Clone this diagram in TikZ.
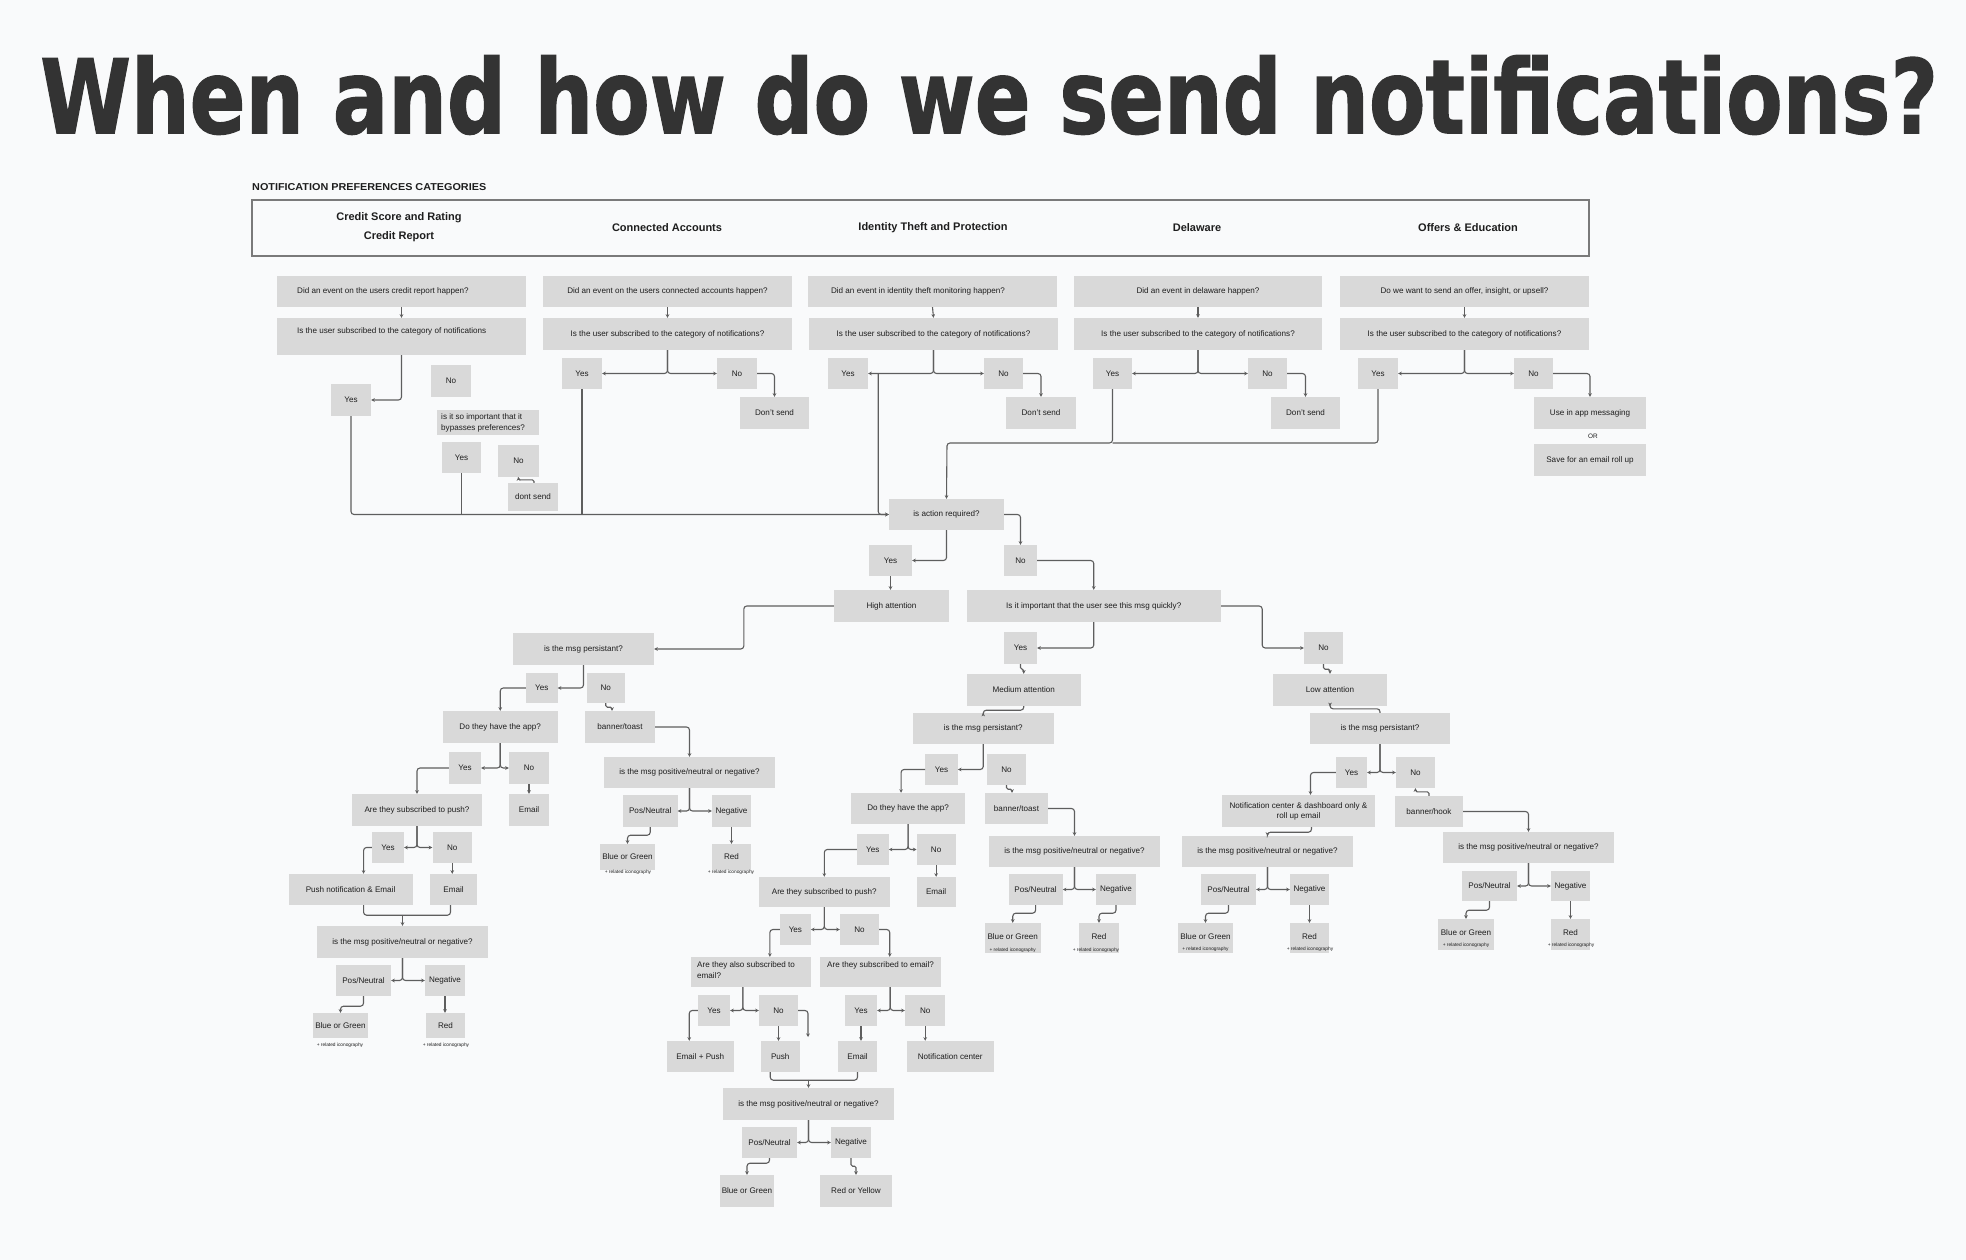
\documentclass[tikz,border=0pt]{standalone}
\usepackage{fontspec}
\usepackage{graphicx}
\setmainfont{Liberation Sans}
\newfontfamily\titlefont[BoldFeatures={FakeBold=1.3}]{DejaVu Sans}
\usetikzlibrary{arrows.meta}
\definecolor{bgc}{HTML}{F9FAFB}
\definecolor{boxc}{HTML}{D9D9D9}
\definecolor{linec}{HTML}{5E5E5E}
\definecolor{hdrc}{HTML}{7A7A7A}
\definecolor{txtc}{HTML}{1E1E1E}
\definecolor{titlec}{HTML}{333333}
\tikzset{
 box/.style={fill=boxc, inner sep=0pt, text=txtc, font=\fontsize{8.1}{10}\selectfont, align=center},
 txt/.style={inner sep=0pt, text=txtc, font=\fontsize{8.1}{11}\selectfont, align=left},
 icon/.style={inner sep=0pt, text=txtc, font=\fontsize{4.8}{5}\selectfont},
 hd/.style={inner sep=0pt, text=txtc, font=\fontsize{11}{19}\selectfont\bfseries, align=center},
 wire/.style={draw=linec, line width=1.1pt, rounded corners=3pt},
 conn/.style={wire, -{Stealth[length=3.6pt,width=3.6pt]}},
}
\newcommand\mybox[7][]{\node[box,minimum width={(#5-#3)*1pt},minimum height={(#6-#4)*1pt},#1] (#2) at ({(#3+#5)/2},{(#4+#6)/2}) {#7};}
\begin{document}
\begin{tikzpicture}[x=1pt,y=-1pt]
\fill[bgc] (0,0) rectangle (1966,1260);
\useasboundingbox (0,0) rectangle (1966,1260);

% title
\node[anchor=north west,inner sep=0,text=titlec] (title) at (40,55) {\resizebox{1897pt}{78pt}{\titlefont\bfseries When and how do we send notifications?}};
\node[anchor=west,inner sep=0,text=txtc] (nlabel) at (252,187) {\resizebox{234pt}{7pt}{\bfseries NOTIFICATION PREFERENCES CATEGORIES}};

% header
\mybox[fill=none,draw=hdrc,line width=1.4pt]{hdr}{252}{200}{1589}{256}{}
\node[hd] (h1) at (399,227.5) {Credit Score and Rating\\Credit Report};
\node[hd] (h2) at (667,228) {Connected Accounts};
\node[hd] (h3) at (933,228) {Identity Theft and Protection};
\node[hd] (h4) at (1197,228) {Delaware};
\node[hd] (h5) at (1468,228) {Offers \& Education};

% column 1
\mybox{c1ev}{277}{276}{526}{307}{}
\node[txt,anchor=west] (c1evt) at (297,291.5) {Did an event on the users credit report happen?};
\mybox{c1sub}{277}{318}{526}{355}{}
\node[txt,anchor=west] (c1subt) at (297,331) {Is the user subscribed to the category of notifications};
\mybox{c1yes}{331}{384}{371}{416}{Yes}
\mybox{c1no}{431}{365}{471}{397}{No}
\mybox{c1imp}{437}{410}{539}{435}{}
\node[txt,anchor=west] (c1impt) at (441,422.5) {is it so important that it\\bypasses preferences?};
\mybox{c1yes2}{442}{442}{481}{473}{Yes}
\mybox{c1no2}{498}{445}{539}{477}{No}
\mybox{c1ds}{508}{483}{558}{511}{dont send}

% column 2
\mybox{c2ev}{543}{276}{792}{307}{Did an event on the users connected accounts happen?}
\mybox{c2sub}{543}{318}{792}{350}{Is the user subscribed to the category of notifications?}
\mybox{c2yes}{562}{358}{602}{389}{Yes}
\mybox{c2no}{717}{358}{757}{389}{No}
\mybox{c2ds}{740}{397}{809}{429}{Don't send}

% column 3
\mybox{c3ev}{808}{276}{1057}{307}{}
\node[txt] (c3evt) at (918,291.5) {Did an event in identity theft monitoring happen?};
\mybox{c3sub}{809}{318}{1058}{350}{Is the user subscribed to the category of notifications?}
\mybox{c3yes}{828}{358}{868}{389}{Yes}
\mybox{c3no}{984}{358}{1023}{389}{No}
\mybox{c3ds}{1006}{397}{1076}{429}{Don't send}

% column 4
\mybox{c4ev}{1074}{276}{1322}{307}{Did an event in delaware happen?}
\mybox{c4sub}{1074}{318}{1322}{350}{Is the user subscribed to the category of notifications?}
\mybox{c4yes}{1093}{358}{1132}{389}{Yes}
\mybox{c4no}{1248}{358}{1287}{389}{No}
\mybox{c4ds}{1271}{397}{1340}{429}{Don't send}

% column 5
\mybox{c5ev}{1340}{276}{1589}{307}{Do we want to send an offer, insight, or upsell?}
\mybox{c5sub}{1340}{318}{1589}{350}{Is the user subscribed to the category of notifications?}
\mybox{c5yes}{1358}{358}{1398}{389}{Yes}
\mybox{c5no}{1514}{358}{1553}{389}{No}
\mybox{c5app}{1534}{397}{1646}{429}{Use in app messaging}
\node[txt,font=\fontsize{6.4}{7}\selectfont] (c5or) at (1593,436.5) {OR};
\mybox{c5save}{1534}{444}{1646}{476}{Save for an email roll up}

% action
\mybox{act}{889}{499}{1004}{530}{is action required?}
\mybox{ayes}{869}{545}{912}{576}{Yes}
\mybox{ano}{1004}{545}{1037}{576}{No}
\mybox{ha}{834}{590}{949}{622}{High attention}
\mybox{imp}{966.5}{590}{1221}{622}{Is it important that the user see this msg quickly?}
\mybox{myes}{1004}{632}{1037}{664}{Yes}
\mybox{lno}{1304}{632}{1343}{664}{No}
\mybox{med}{966.5}{674}{1081}{706}{Medium attention}
\mybox{low}{1273}{674}{1387}{706}{Low attention}

% high attention branch
\mybox{p1}{513}{633}{654}{665}{is the msg persistant?}
\mybox{p1y}{526}{673}{557.5}{703}{Yes}
\mybox{p1n}{586.5}{673}{625}{703}{No}
\mybox{app1}{443}{711}{557.5}{743}{Do they have the app?}
\mybox{bt1}{585}{711}{655}{743}{banner/toast}
\mybox{a1y}{449}{752}{481}{784}{Yes}
\mybox{a1n}{509}{752}{549}{784}{No}
\mybox{em1}{509}{794}{549}{826}{Email}
\mybox{push1}{352}{794}{482}{826}{Are they subscribed to push?}
\mybox{p1yy}{372}{832}{404}{863}{Yes}
\mybox{p1nn}{432.5}{832}{472}{863}{No}
\mybox{pne}{288.6}{874}{412.5}{905}{Push notification \& Email}
\mybox{em2}{430}{874}{477}{905}{Email}
\mybox{pn2}{317}{926}{488}{958}{is the msg positive/neutral or negative?}
\mybox{pos2}{336}{965}{391}{996}{Pos/Neutral}
\mybox{neg2}{425}{965}{465}{996}{Negative}
\mybox{bg2}{313}{1013}{368}{1038}{Blue or Green}
\node[icon] (bg2i) at (340,1045) {+ related iconography};
\mybox{red2}{426}{1013}{465}{1038}{Red}
\node[icon] (red2i) at (446,1045) {+ related iconography};
\mybox{pn1}{604}{757}{775}{788}{is the msg positive/neutral or negative?}
\mybox{pos1}{623}{795}{677.5}{827}{Pos/Neutral}
\mybox{neg1}{712}{795}{751}{827}{Negative}
\mybox{bg1}{600}{844}{655}{870}{Blue or Green}
\node[icon] (bg1i) at (628,872.5) {+ related iconography};
\mybox{red1}{712}{844}{751}{870}{Red}
\node[icon] (red1i) at (731,872.5) {+ related iconography};

% medium attention branch
\mybox{p2}{913}{713}{1053.5}{744}{is the msg persistant?}
\mybox{p2y}{925.4}{754}{957.7}{785}{Yes}
\mybox{p2n}{987}{754}{1026}{785}{No}
\mybox{app2}{850.7}{793}{965.4}{824}{Do they have the app?}
\mybox{bt2}{985}{793}{1048}{824}{banner/toast}
\mybox{pn3}{989}{836}{1160}{867}{is the msg positive/neutral or negative?}
\mybox{pos3}{1008.6}{874}{1062.6}{905}{Pos/Neutral}
\mybox{neg3}{1096}{874}{1136}{905}{Negative}
\mybox{bg3}{985}{923}{1040.5}{953}{}
\node[txt] (bg3t) at (1012.75,937) {Blue or Green};
\node[icon] (bg3i) at (1012.75,950) {+ related iconography};
\mybox{red3}{1079}{923}{1119}{953}{}
\node[txt] (red3t) at (1099,937) {Red};
\node[icon] (red3i) at (1096,950) {+ related iconography};
\mybox{a2y}{857}{834}{888.6}{865}{Yes}
\mybox{a2n}{916.7}{834}{955.6}{865}{No}
\mybox{em3}{916.7}{877}{955.6}{907}{Email}
\mybox{push2}{759}{877}{889.6}{907}{Are they subscribed to push?}
\mybox{p2yy}{780}{914}{810.7}{945}{Yes}
\mybox{p2nn}{840}{914}{879}{945}{No}
\mybox{also}{690.7}{957}{811}{987}{}
\node[txt,anchor=north west] (alsot) at (697,961) {Are they also subscribed to\\email?};
\mybox{sube}{820}{957}{940.5}{987}{}
\node[txt,anchor=west] (subet) at (827,965) {Are they subscribed to email?};
\mybox{yes4}{698}{995}{730}{1026}{Yes}
\mybox{no4}{759}{995}{798}{1026}{No}
\mybox{yes5}{845}{995}{877}{1026}{Yes}
\mybox{no5}{905}{995}{945.4}{1026}{No}
\mybox{ep}{667}{1041}{733.5}{1072}{Email + Push}
\mybox{push3}{760.5}{1041}{800}{1072}{Push}
\mybox{em4}{838}{1041}{877}{1072}{Email}
\mybox{nc2}{906.5}{1041}{994}{1072}{Notification center}
\mybox{pn6}{723}{1088}{894}{1120}{is the msg positive/neutral or negative?}
\mybox{pos6}{742}{1127}{797}{1158}{Pos/Neutral}
\mybox{neg6}{831}{1127}{871}{1158}{Negative}
\mybox{bg6}{720}{1175}{774}{1207}{Blue or Green}
\mybox{ry}{820}{1175}{892}{1207}{Red or Yellow}
\coordinate (no4end) at (808,1037);

% low attention branch
\mybox{p3}{1310}{713}{1450}{744}{is the msg persistant?}
\mybox{p3y}{1336}{757}{1367}{788}{Yes}
\mybox{p3n}{1396}{757}{1435}{788}{No}
\mybox{nc}{1222}{795}{1375}{827}{Notification center \& dashboard only \&\\roll up email}
\mybox{bh}{1395}{796}{1463}{827}{banner/hook}
\mybox{pn4}{1182}{836}{1353}{867}{is the msg positive/neutral or negative?}
\mybox{pos4}{1201}{874}{1256}{905}{Pos/Neutral}
\mybox{neg4}{1290}{874}{1329}{905}{Negative}
\mybox{bg4}{1178}{923}{1233}{953}{}
\node[txt] (bg4t) at (1205.5,937) {Blue or Green};
\node[icon] (bg4i) at (1205.5,949) {+ related iconography};
\mybox{red4}{1290}{923}{1329}{953}{}
\node[txt] (red4t) at (1309.5,937) {Red};
\node[icon] (red4i) at (1310,949) {+ related iconography};
\mybox{pn5}{1443}{832}{1614}{863}{is the msg positive/neutral or negative?}
\mybox{pos5}{1462}{871}{1517}{901}{Pos/Neutral}
\mybox{neg5}{1551}{871}{1590}{901}{Negative}
\mybox{bg5}{1438}{919}{1494}{950}{}
\node[txt] (bg5t) at (1466,933) {Blue or Green};
\node[icon] (bg5i) at (1466,945) {+ related iconography};
\mybox{red5}{1551}{919}{1590}{950}{}
\node[txt] (red5t) at (1570.5,933) {Red};
\node[icon] (red5i) at (1571,945) {+ related iconography};

\coordinate (lvl) at (947,443);

% ---------- connectors: top ----------
\draw[conn] (c1ev.south) -- (c1sub.north);
\draw[conn] (c1sub.south) |- (c1yes.east);
\draw[conn,rounded corners=1.5pt] ([xshift=1pt]c1ds.north) -- ++(0,-3) -| (c1no2.south);
\draw[conn] (c1yes.south) |- (act.west);
\draw[wire] (c1yes2.south) -- (c1yes2.south |- act.west);
\draw[wire] (c2yes.south) -- (c2yes.south |- act.west);
\draw[conn] ([xshift=10pt]c3yes.east) |- (act.west);

\draw[conn] (c2ev.south) -- (c2sub.north);
\draw[conn] (c2sub.south) |- (c2yes.east);
\draw[conn] (c2sub.south) |- (c2no.west);
\draw[conn] (c2no.east) -| (c2ds.north);

\draw[conn] (c3ev.south) -- (c3sub.north);
\draw[conn] (c3sub.south) |- (c3yes.east);
\draw[conn] (c3sub.south) |- (c3no.west);
\draw[conn] (c3no.east) -| (c3ds.north);

\draw[conn] (c4ev.south) -- (c4sub.north);
\draw[conn] (c4sub.south) |- (c4yes.east);
\draw[conn] (c4sub.south) |- (c4no.west);
\draw[conn] (c4no.east) -| (c4ds.north);

\draw[conn] (c5ev.south) -- (c5sub.north);
\draw[conn] (c5sub.south) |- (c5yes.east);
\draw[conn] (c5sub.south) |- (c5no.west);
\draw[conn] (c5no.east) -| (c5app.north);

\draw[conn] (c4yes.south) |- (lvl) -- (act.north);
\draw[wire] (c5yes.south) |- (c4yes.south |- lvl);

% ---------- action ----------
\draw[conn] (act.south) |- (ayes.east);
\draw[conn] (act.east) -| (ano.north);
\draw[conn] (ayes.south) -- (ayes.south |- ha.north);
\draw[conn] (ano.east) -| (imp.north);
\draw[conn] (imp.south) |- (myes.east);
\draw[conn] (imp.east) -- ++(41,0) |- (lno.west);
\draw[conn,rounded corners=1.5pt] (myes.south) -- ++(0,5) -| (med.north);
\draw[conn,rounded corners=1.5pt] (lno.south) -- ++(0,5) -| (low.north);

% ---------- high ----------
\draw[conn] (ha.west) -- ++(-90,0) |- (p1.east);
\draw[conn] (p1.south) |- (p1y.east);
\draw[conn,rounded corners=1.5pt] (p1n.south) -- ++(0,4) -| ([xshift=-8pt]bt1.north);
\draw[conn] (p1y.west) -| (app1.north);
\draw[conn] (bt1.east) -| (pn1.north);
\draw[conn] (app1.south) |- (a1y.east);
\draw[conn] (app1.south) |- (a1n.west);
\draw[conn] (a1n.south) -- (em1.north);
\draw[conn] (a1y.west) -| (push1.north);
\draw[conn] (push1.south) |- (p1yy.east);
\draw[conn] (push1.south) |- (p1nn.west);
\draw[conn] (p1yy.west) -| ([xshift=13pt]pne.north);
\draw[conn] (p1nn.south) -- (p1nn.south |- em2.north);
\draw[wire] ([xshift=13pt]pne.south) -- ++(0,10) -| ([xshift=-3pt]em2.south);
\draw[conn] ([yshift=11pt]pn2.north) -- (pn2.north);
\draw[conn] (pn2.south) |- (pos2.east);
\draw[conn] (pn2.south) |- (neg2.west);
\draw[conn] (pos2.south) -- ++(0,10) -| (bg2.north);
\draw[conn] (neg2.south) -- (neg2.south |- red2.north);
\draw[conn] (pn1.south) |- (pos1.east);
\draw[conn] (pn1.south) |- (neg1.west);
\draw[conn] (pos1.south) -- ++(0,8) -| (bg1.north);
\draw[conn] (neg1.south) -- (neg1.south |- red1.north);

% ---------- medium ----------
\draw[conn] (med.south) -- ++(0,4) -| (p2.north);
\draw[conn] (p2.south) |- (p2y.east);
\draw[conn,rounded corners=1.5pt] (p2n.south) -- ++(0,4) -| ([xshift=-4.5pt]bt2.north);
\draw[conn] (p2y.west) -| ([xshift=-7pt]app2.north);
\draw[conn] (bt2.east) -| (pn3.north);
\draw[conn] (pn3.south) |- (pos3.east);
\draw[conn] (pn3.south) |- (neg3.west);
\draw[conn] (pos3.south) -- ++(0,8) -| (bg3.north);
\draw[conn] (neg3.south) -- ++(0,8) -| (red3.north);
\draw[conn] (app2.south) |- (a2y.east);
\draw[conn] (app2.south) |- (a2n.west);
\draw[conn] (a2n.south) -- (a2n.south |- em3.north);
\draw[conn] (a2y.west) -| (push2.north);
\draw[conn] (push2.south) |- (p2yy.east);
\draw[conn] (push2.south) |- (p2nn.west);
\draw[conn] (p2yy.west) -| ([xshift=19pt]also.north);
\draw[conn] (p2nn.east) -| ([xshift=9.5pt]sube.north);
\draw[conn] ([xshift=-8pt]also.south) |- (yes4.east);
\draw[conn] ([xshift=-8pt]also.south) |- (no4.west);
\draw[conn] (yes4.west) -| ([xshift=-11pt]ep.north);
\draw[conn] (no4.south) -- (no4.south |- push3.north);
\draw[conn] (no4.east) -| (no4end);
\draw[conn] ([xshift=10pt]sube.south) |- (yes5.east);
\draw[conn] ([xshift=10pt]sube.south) |- (no5.west);
\draw[conn] (yes5.south) -- (yes5.south |- em4.north);
\draw[conn] (no5.south) -- (no5.south |- nc2.north);
\draw[wire] ([xshift=-10pt]push3.south) -- ++(0,8) -| (em4.south);
\draw[conn] ([yshift=8pt]pn6.north) -- (pn6.north);
\draw[conn] (pn6.south) |- (pos6.east);
\draw[conn] (pn6.south) |- (neg6.west);
\draw[conn] (pos6.south) -- ++(0,5) -| (bg6.north);
\draw[conn,rounded corners=1.5pt] (neg6.south) -- ++(0,8) -| (ry.north);

% ---------- low ----------
\draw[conn] (p3.north) -- ++(0,-4) -| (low.south);
\draw[conn] (p3.south) |- (p3y.east);
\draw[conn] (p3.south) |- (p3n.west);
\draw[conn] (p3y.west) -| ([xshift=12pt]nc.north);
\draw[conn,rounded corners=1.5pt] (bh.north) -- ++(0,-4) -| (p3n.south);
\draw[conn] (bh.east) -| (pn5.north);
\draw[conn] ([xshift=13pt]nc.south) -- ++(0,5) -| (pn4.north);
\draw[conn] (pn4.south) |- (pos4.east);
\draw[conn] (pn4.south) |- (neg4.west);
\draw[conn] (pos4.south) -- ++(0,8) -| (bg4.north);
\draw[conn] (neg4.south) -- (neg4.south |- red4.north);
\draw[conn] (pn5.south) |- (pos5.east);
\draw[conn] (pn5.south) |- (neg5.west);
\draw[conn] (pos5.south) -- ++(0,9) -| (bg5.north);
\draw[conn] (neg5.south) -- (neg5.south |- red5.north);
\end{tikzpicture}
\end{document}
